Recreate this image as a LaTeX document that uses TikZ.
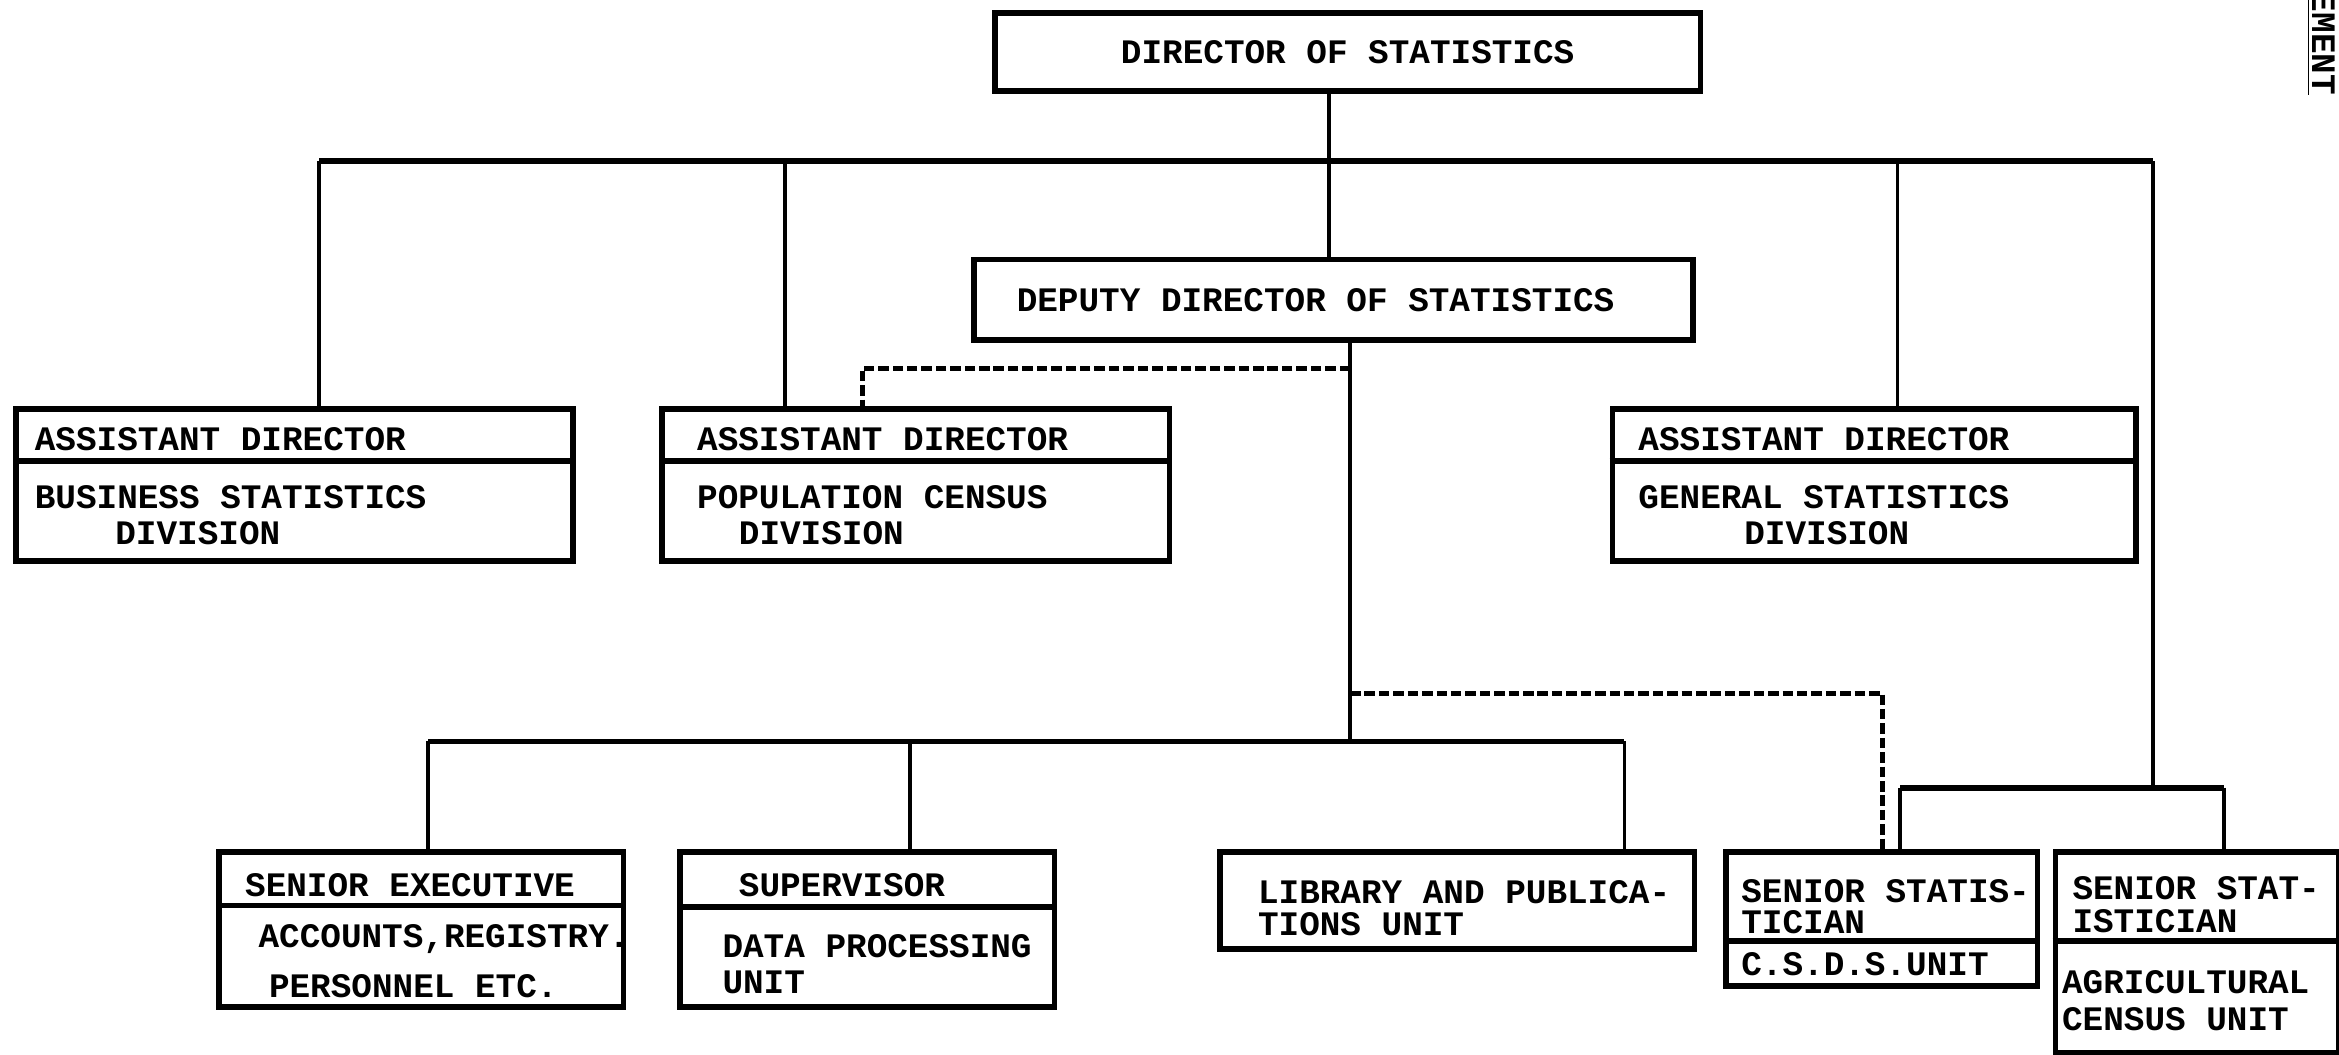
\documentclass[tikz,border=0pt]{standalone}
\usepackage{fontspec}
\setmonofont{Liberation Mono}
\usepackage{tikz}

\tikzset{
    typed/.style={font=\ttfamily\bfseries\fontsize{13.1}{13.7}\selectfont, anchor=base west, align=left, inner sep=0pt},
    orgbox/.style 2 args={draw, line width=2.2pt, anchor=north west, inner sep=0pt, font=\ttfamily\bfseries\fontsize{13.1}{13.7}\selectfont, minimum width=#1*0.2mm, minimum height=#2*0.2mm},
    divider/.style={line width=2.2pt},
    mainbar/.style={line width=2.2pt},
    solidlink/.style={line width=1.5pt},
    dashlink/.style={line width=1.8pt, dash pattern=on 4pt off 1.5pt}
}

\begin{document}
\begin{tikzpicture}[x=0.2mm, y=-0.2mm]
    \useasboundingbox[fill=white] (0,0) rectangle (1568,707);

    \node[orgbox={473}{52}] (director) at (665,7) {DIRECTOR OF STATISTICS};

    \node[orgbox={482}{54}] (deputy) at (651,172) {DEPUTY DIRECTOR OF STATISTICS\hspace*{4.8mm}};

    % assistant directors (multi-line texts sit on their last baseline)
    \node[orgbox={373}{102}] (bsd) at (9,272) {};
    \node[typed] (bsd-title) at (23,302) {ASSISTANT DIRECTOR};
    \node[typed] (bsd-name) at (23,365) {BUSINESS STATISTICS\\\hspace*{10.8mm}DIVISION};
    \draw[divider] (bsd.west |- 0,309) -- (bsd.east |- 0,309);

    \node[orgbox={340}{102}] (pcd) at (442,272) {};
    \node[typed] (pcd-title) at (467,302) {ASSISTANT DIRECTOR};
    \node[typed] (pcd-name) at (467,365) {POPULATION CENSUS\\\hspace*{5.6mm}DIVISION};
    \draw[divider] (pcd.west |- 0,309) -- (pcd.east |- 0,309);

    \node[orgbox={351}{102}] (gsd) at (1079,272) {};
    \node[typed] (gsd-title) at (1098,302) {ASSISTANT DIRECTOR};
    \node[typed] (gsd-name) at (1098,365) {GENERAL STATISTICS\\\hspace*{14.2mm}DIVISION};
    \draw[divider] (gsd.west |- 0,309) -- (gsd.east |- 0,309);

    % units
    \node[orgbox={271}{104}] (senexec) at (145,569) {};
    \node[typed] (senexec-title) at (164,601) {SENIOR EXECUTIVE};
    \node[typed] (senexec-name) at (173,669) {ACCOUNTS,REGISTRY.\\[5.6pt]\hspace*{1.4mm}PERSONNEL ETC.};
    \draw[divider] (senexec.west |- 0,607) -- (senexec.east |- 0,607);

    \node[orgbox={251}{104}] (supervisor) at (454,569) {};
    \node[typed] (supervisor-title) at (495,601) {SUPERVISOR};
    \node[typed] (supervisor-name) at (484,666) {DATA PROCESSING\\UNIT};
    \draw[divider] (supervisor.west |- 0,608) -- (supervisor.east |- 0,608);

    \node[orgbox={318}{65}] (library) at (816,569) {};
    \node[typed] (library-name) at (843,627) {LIBRARY AND PUBLICA-\\[-1.7pt]TIONS UNIT};

    \node[orgbox={209}{90}] (csds) at (1155,569) {};
    \node[typed] (csds-title) at (1167,626) {SENIOR STATIS-\\[-1.7pt]TICIAN};
    \node[typed] (csds-name) at (1167,654) {C.S.D.S.UNIT};
    \draw[divider] (csds.west |- 0,631) -- (csds.east |- 0,631);

    \node[orgbox={190}{135}] (agric) at (1376,569) {};
    \node[typed] (agric-title) at (1389,625) {SENIOR STAT-\\[-1.2pt]ISTICIAN};
    \node[typed] (agric-name) at (1382,691) {AGRICULTURAL\\[0.5pt]CENSUS UNIT};
    \draw[divider] (agric.west |- 0,631) -- (agric.east |- 0,631);

    \node[typed, rotate=-90, anchor=base east] (margin-note) at (1550,64) {\underline{EMENT}};

    % connectors
    \coordinate (topbar-l) at (214,108);
    \coordinate (topbar-r) at (1443,108);
    \coordinate (to-pcd) at (526,108);
    \coordinate (to-deputy) at (891,108);
    \coordinate (to-gsd) at (1272,108);
    \coordinate (lowbar-l) at (287,497);
    \coordinate (lowbar-r) at (1089,497);
    \coordinate (to-sup) at (610,497);
    \coordinate (dep-foot) at (905,497);
    \coordinate (pair-l) at (1274,528);
    \coordinate (pair-r) at (1491,528);
    \coordinate (dash-a) at (578,247);
    \coordinate (dash-b) at (1262,465);

    \draw[solidlink] (director.south -| to-deputy) -- (to-deputy);

    \draw[mainbar] (topbar-l) -- (topbar-r);

    \draw[solidlink] (topbar-l) -- (topbar-l |- bsd.north);

    \draw[solidlink] (to-pcd) -- (to-pcd |- pcd.north);

    \draw[solidlink] (to-deputy) -- (to-deputy |- deputy.north);

    \draw[solidlink] (to-gsd) -- (to-gsd |- gsd.north);

    \draw[solidlink] (deputy.south -| dep-foot) -- (dep-foot);

    \draw[dashlink] (dep-foot |- dash-a) -- (dash-a) -- (dash-a |- pcd.north);

    \draw[dashlink] (dep-foot |- dash-b) -- (dash-b) -- (dash-b |- csds.north);

    \draw[mainbar] (lowbar-l) -- (lowbar-r);

    \draw[solidlink] (lowbar-l) -- (lowbar-l |- senexec.north);

    \draw[solidlink] (to-sup) -- (to-sup |- supervisor.north);

    \draw[solidlink] (lowbar-r) -- (lowbar-r |- library.north);

    \draw[solidlink] (topbar-r) -- (topbar-r |- pair-l);

    \draw[mainbar] (pair-l) -- (pair-r);

    \draw[solidlink] (pair-l) -- (pair-l |- csds.north);

    \draw[solidlink] (pair-r) -- (pair-r |- agric.north);
\end{tikzpicture}
\end{document}
